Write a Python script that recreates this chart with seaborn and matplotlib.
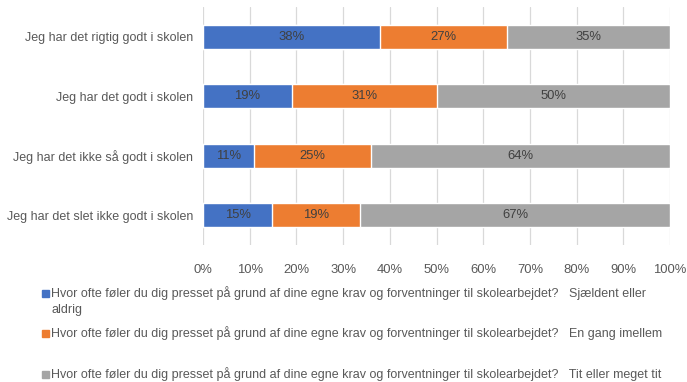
import numpy as np
import pandas as pd
import seaborn as sns
import matplotlib.pyplot as plt
from matplotlib.patches import Rectangle

# Survey answers per well-being group (percent, as reported)
categories = [
    "Jeg har det rigtig godt i skolen",
    "Jeg har det godt i skolen",
    "Jeg har det ikke så godt i skolen",
    "Jeg har det slet ikke godt i skolen",
]
sjaeldent = [38, 19, 11, 15]
en_gang = [27, 31, 25, 19]
tit = [35, 50, 64, 67]

question = "Hvor ofte føler du dig presset på grund af dine egne krav og forventninger til skolearbejdet?"
series_names = ["Sjældent eller aldrig", "En gang imellem", "Tit eller meget tit"]
colors = ["#4472C4", "#ED7D31", "#A5A5A5"]
xticks = [0, 10, 20, 30, 40, 50, 60, 70, 80, 90, 100]

sns.set_theme(style="white")
plt.rcParams["font.family"] = ["Liberation Sans", "DejaVu Sans"]
text_color = "#595959"
fs = 9.0

# 100% stacked layout: normalise each row by its total
vals = np.array([sjaeldent, en_gang, tit], dtype=float)
share = vals / vals.sum(axis=0) * 100
cum = np.cumsum(share, axis=0)

fig = plt.figure(figsize=(6.87, 3.82), dpi=100)
ax = fig.add_axes([203 / 687, 1 - 245 / 382, 467 / 687, 238 / 382])

# draw from the outermost stack inwards so the segments overlap correctly
for i in (2, 1, 0):
    df = pd.DataFrame({"cat": categories, "end": cum[i]})
    sns.barplot(data=df, y="cat", x="end", order=categories, color=colors[i],
                width=0.4, saturation=1, ax=ax, zorder=3)

for i in range(3):
    start = cum[i] - share[i]
    for j in range(len(categories)):
        ax.text(start[j] + share[i][j] / 2, j, f"{int(vals[i][j])}%",
                ha="center", va="center", fontsize=9.4, color="#404040", zorder=4)

ax.set_xlim(0, 100)
ax.set_ylim(3.5, -0.5)
ax.set_xticks(xticks)
ax.set_xticklabels([f"{t}%" for t in xticks], fontsize=9.4, color=text_color)
ax.tick_params(axis="x", length=0, pad=14)
ax.tick_params(axis="y", length=0, pad=7)
ax.set_yticks(range(len(categories)))
ax.set_yticklabels(categories, fontsize=fs, color=text_color)
ax.set_xlabel("")
ax.set_ylabel("")
ax.grid(axis="x", color="#D9D9D9", linewidth=0.9, zorder=0)
for s in ax.spines.values():
    s.set_visible(False)

# legend entries below the plot
entries = [
    (293, question + "   " + "Sjældent eller", "aldrig"),
    (333, question + "   " + series_names[1], None),
    (374, question + "   " + series_names[2], None),
]
for (ypx, line1, line2), c in zip(entries, colors):
    fig.patches.append(Rectangle((42 / 687, 1 - (ypx + 3.5) / 382), 7 / 687, 7 / 382,
                                 transform=fig.transFigure, color=c, figure=fig))
    fig.text(51 / 687, 1 - ypx / 382, line1, fontsize=fs, color=text_color,
             ha="left", va="center")
    if line2:
        fig.text(51 / 687, 1 - (ypx + 17) / 382, line2, fontsize=fs, color=text_color,
                 ha="left", va="center")

fig.savefig("out.png", dpi=100)
